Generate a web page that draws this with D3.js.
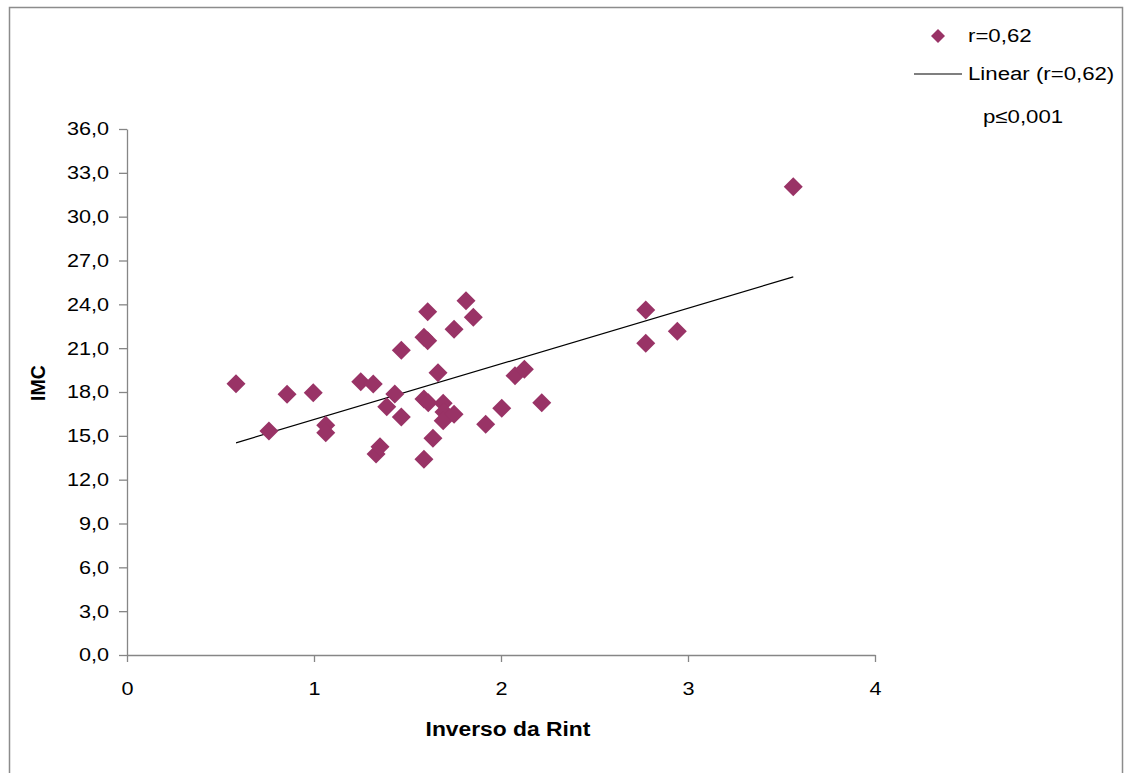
<!DOCTYPE html>
<html>
<head>
<meta charset="utf-8">
<script src="https://cdn.jsdelivr.net/npm/d3@7"></script>
<style>
  body { margin: 0; background: #fff; }
  text { font-family: "Liberation Sans", Arial, sans-serif; fill: #000; }
</style>
</head>
<body>
<div id="chart"></div>
<script>
var W = 1126, H = 773;

// Inverso da Rint
var rint = [0.583, 0.759, 0.856, 0.996, 1.063, 1.063, 1.250, 1.317, 1.332, 1.353,
            1.389, 1.432, 1.467, 1.467, 1.588, 1.588, 1.608, 1.608, 1.588, 1.611,
            1.636, 1.663, 1.691, 1.695, 1.691, 1.749, 1.749, 1.813, 1.852, 1.918,
            2.004, 2.075, 2.125, 2.218, 2.774, 2.774, 2.943, 3.563];
// IMC
var imc = [18.57, 15.33, 17.84, 17.95, 15.72, 15.21, 18.71, 18.55, 13.76, 14.26,
           16.99, 17.86, 20.85, 16.29, 13.39, 21.74, 21.51, 23.50, 17.52, 17.27,
           14.83, 19.32, 17.23, 16.63, 16.04, 16.47, 22.29, 24.25, 23.11, 15.79,
           16.88, 19.12, 19.55, 17.27, 23.61, 21.33, 22.15, 32.05];

var xTicks = [0, 1, 2, 3, 4];
var yTicks = [0, 3, 6, 9, 12, 15, 18, 21, 24, 27, 30, 33, 36];
var legendLabels = ["r=0,62", "Linear (r=0,62)", "p\u22640,001"];

var margin = {left: 127, right: W - 875, top: 129, bottom: H - 655};
var color = "#993366";
var axisColor = "#868686";
var K = 1.17; // the original text is a bit wider than Arial

var ptBr = d3.formatLocale({decimal: ",", thousands: ".", grouping: [3], currency: ["R$", ""]});
var fmt1 = ptBr.format(".1f");

// widen text horizontally, keeping its anchor point
function stretch(sel) {
    sel.each(function () {
        var t = d3.select(this);
        var tx = +t.attr("x") || 0;
        t.attr("x", tx / K).attr("transform", "scale(" + K + ",1)");
    });
}

var svg = d3.select("#chart").append("svg")
    .attr("width", W)
    .attr("height", H);

// outer frame
svg.append("rect")
    .attr("x", 9.5).attr("y", 7.5)
    .attr("width", 1113).attr("height", 800)
    .attr("fill", "none")
    .attr("stroke", "#8c8c8c")
    .attr("stroke-width", 1.5);

var x = d3.scaleLinear().domain([0, 4]).range([margin.left, W - margin.right]);
var y = d3.scaleLinear().domain([0, 36]).range([H - margin.bottom, margin.top]);

var xAxis = svg.append("g")
    .attr("transform", "translate(0," + y(0) + ")")
    .call(d3.axisBottom(x).tickValues(xTicks).tickSize(7).tickPadding(20).tickSizeOuter(0).tickFormat(d3.format("d")));

var yAxis = svg.append("g")
    .attr("transform", "translate(" + x(0) + ",0)")
    .call(d3.axisLeft(y).tickValues(yTicks).tickSize(8).tickPadding(10).tickSizeOuter(0).tickFormat(fmt1));

[xAxis, yAxis].forEach(function (g) {
    g.select(".domain").attr("stroke", axisColor).attr("stroke-width", 1.3);
    g.selectAll(".tick line").attr("stroke", axisColor).attr("stroke-width", 1.3);
    g.selectAll(".tick text")
        .attr("fill", "#000")
        .style("font-family", "'Liberation Sans', Arial, sans-serif")
        .style("font-size", "18.5px")
        .call(stretch);
});

// axis titles
svg.append("text")
    .attr("x", 508).attr("y", 736)
    .attr("text-anchor", "middle")
    .style("font-size", "19.5px")
    .style("font-weight", "bold")
    .text("Inverso da Rint")
    .call(stretch);

svg.append("text")
    .attr("transform", "translate(45,383) rotate(-90)")
    .attr("text-anchor", "middle")
    .style("font-size", "19.5px")
    .style("font-weight", "bold")
    .text("IMC");

// regression line
var mx = d3.mean(rint), my = d3.mean(imc);
var sxy = d3.sum(rint, function (d, i) { return (d - mx) * (imc[i] - my); });
var sxx = d3.sum(rint, function (d) { return (d - mx) * (d - mx); });
var slope = sxy / sxx;
var intercept = my - slope * mx;
var ext = d3.extent(rint);

svg.append("line")
    .attr("x1", x(ext[0])).attr("y1", y(intercept + slope * ext[0]))
    .attr("x2", x(ext[1])).attr("y2", y(intercept + slope * ext[1]))
    .attr("stroke", "#000")
    .attr("stroke-width", 1.2);

// diamonds
var diamond = "M0,-9.5L9.5,0L0,9.5L-9.5,0Z";
svg.selectAll("path.pt")
    .data(rint)
    .enter()
    .append("path")
    .attr("class", "pt")
    .attr("d", diamond)
    .attr("transform", function (d, i) {
        return "translate(" + x(d) + "," + y(imc[i]) + ")";
    })
    .attr("fill", color);

// legend
svg.append("path")
    .attr("d", "M0,-7L7,0L0,7L-7,0Z")
    .attr("transform", "translate(938,36)")
    .attr("fill", color);

svg.append("line")
    .attr("x1", 914).attr("x2", 962)
    .attr("y1", 74).attr("y2", 74)
    .attr("stroke", "#000")
    .attr("stroke-width", 1.2);

svg.selectAll("text.leg")
    .data(legendLabels)
    .enter()
    .append("text")
    .attr("class", "leg")
    .attr("x", function (d, i) { return i == 2 ? 983 : 968; })
    .attr("y", function (d, i) { return [42, 80, 123][i]; })
    .style("font-size", "19px")
    .text(function (d) { return d; })
    .call(stretch);
</script>
</body>
</html>
